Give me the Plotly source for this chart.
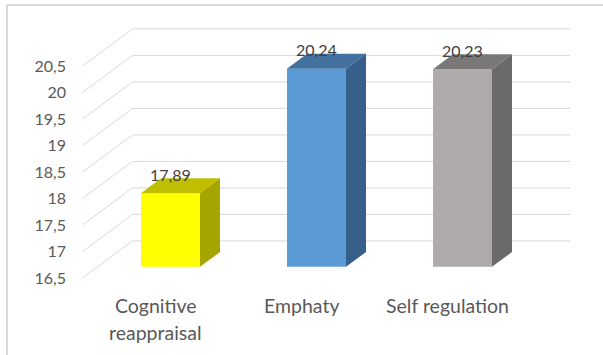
import plotly.graph_objects as go

# Chart data
categories = ["Cognitive<br>reappraisal", "Emphaty", "Self regulation"]
values = [17.89, 20.24, 20.23]
tick_values = [16.5, 17, 17.5, 18, 18.5, 19, 19.5, 20, 20.5]

# Face colours per bar: front, top, right side
front_colors = ["#FFFF00", "#5B9BD5", "#AEAAAA"]
top_colors = ["#BFBF00", "#41719C", "#7A7777"]
side_colors = ["#A5A500", "#36608A", "#6C6969"]

W, H = 603, 355
BASE = 16.5            # axis minimum / floor value
FLOOR_L, FLOOR_R = -0.5, 2.5

# Oblique projection: depth z runs from 0 (front floor edge) to 1 (back wall)
DX, DY = 0.3425, 0.70
Z_FRONT, Z_BACK = 0.30, 0.70
HALF_W = 0.202

# Screen scale used to size the axes ranges
PX_PER_CAT, CAT0_PX = 146.0, 155.5
PX_PER_VAL, BASE_PX = 53.0, 278.0
LEFT_MARGIN = 72


def proj(u, v, z):
    return u + z * DX, v + z * DY


def poly(points):
    xs, ys = zip(*[proj(*p) for p in points])
    return list(xs) + [xs[0]], list(ys) + [ys[0]]


fig = go.Figure()

# Side-wall diagonals and back-wall gridlines
gx, gy = [], []
for t in tick_values:
    for p in [(FLOOR_L, t, 0), (FLOOR_L, t, 1), (FLOOR_R, t, 1)]:
        x, y = proj(*p)
        gx.append(x)
        gy.append(y)
    gx.append(None)
    gy.append(None)
fig.add_trace(go.Scatter(x=gx, y=gy, mode="lines",
                         line=dict(color="#D9D9D9", width=1),
                         hoverinfo="skip", showlegend=False))

# 3D columns
for i, v in enumerate(values):
    l, r = i - HALF_W, i + HALF_W
    faces = [
        ([(l, BASE, Z_FRONT), (r, BASE, Z_FRONT), (r, v, Z_FRONT), (l, v, Z_FRONT)], front_colors[i]),
        ([(l, v, Z_FRONT), (r, v, Z_FRONT), (r, v, Z_BACK), (l, v, Z_BACK)], top_colors[i]),
        ([(r, BASE, Z_FRONT), (r, BASE, Z_BACK), (r, v, Z_BACK), (r, v, Z_FRONT)], side_colors[i]),
    ]
    for pts, col in faces:
        xs, ys = poly(pts)
        fig.add_trace(go.Scatter(x=xs, y=ys, mode="lines", fill="toself",
                                 fillcolor=col, line=dict(width=0, color=col),
                                 hoverinfo="skip", showlegend=False))
    lx, ly = proj(i, v, Z_FRONT)
    fig.add_annotation(x=lx, y=ly, yshift=19, showarrow=False,
                       text=f"{v:.2f}".replace(".", ","),
                       font=dict(family="Lato", size=16, color="#404040"))

# Category labels under the floor
for i, label in enumerate(categories):
    for k, line in enumerate(label.split("<br>")):
        fig.add_annotation(x=i, y=BASE, yshift=-27 - 27 * k, showarrow=False,
                           text=line, yanchor="middle",
                           font=dict(family="Lato", size=19.5, color="#595959"))

plot_w = W - LEFT_MARGIN
x_range = [(LEFT_MARGIN - CAT0_PX) / PX_PER_CAT, (W - CAT0_PX) / PX_PER_CAT]
y_range = [BASE - (H - BASE_PX) / PX_PER_VAL, BASE + BASE_PX / PX_PER_VAL]

# Chart outline (top and left edges)
bx = (7 - LEFT_MARGIN) / plot_w
by = 1 - 5 / H
fig.add_shape(type="line", xref="paper", yref="paper", x0=bx, y0=by, x1=1.01, y1=by,
              line=dict(color="#D9D9D9", width=2))
fig.add_shape(type="line", xref="paper", yref="paper", x0=bx, y0=by, x1=bx, y1=-0.01,
              line=dict(color="#D9D9D9", width=2))

fig.update_layout(
    width=W, height=H,
    margin=dict(l=LEFT_MARGIN, r=0, t=0, b=0),
    paper_bgcolor="white", plot_bgcolor="white",
    separators=",.",
    xaxis=dict(range=x_range, visible=False, fixedrange=True),
    yaxis=dict(range=y_range, tickvals=tick_values, showgrid=False,
               zeroline=False, showline=False, ticks="", ticklabelstandoff=5,
               tickfont=dict(family="Lato", size=16, color="#595959"),
               fixedrange=True),
    showlegend=False,
)

fig.write_html("out.html")
